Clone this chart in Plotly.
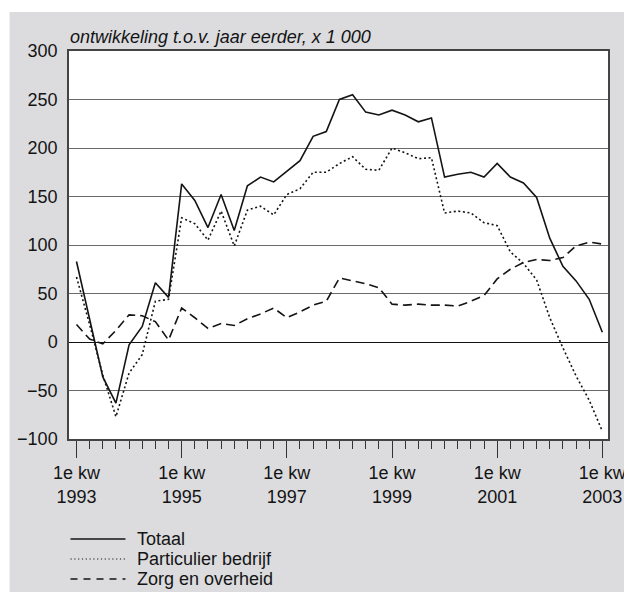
import plotly.graph_objects as go

# quarter index since 1e kw 1993 (0 .. 40 = 1e kw 2003)
quarters = list(range(41))

totaal = [83, 24, -36, -63, -3, 16, 61, 46, 163, 146,
          118, 152, 115, 161, 170, 165, 176, 187, 212, 217,
          250, 255, 237, 234, 239, 234, 227, 231, 170, 173,
          175, 170, 184, 170, 164, 149, 107, 78, 63, 44, 10]

particulier = [67, 18, -34, -77, -32, -13, 42, 44, 128, 122,
               105, 135, 99, 136, 140, 131, 152, 158, 175, 175,
               184, 191, 178, 177, 200, 195, 189, 190, 133, 135,
               133, 123, 120, 93, 81, 64, 25, -6, -35, -60, -92]

zorg = [18, 3, -2, 12, 28, 27, 21, 2, 35, 25,
        14, 19, 17, 24, 29, 35, 25, 31, 38, 42,
        66, 63, 60, 56, 39, 38, 39, 38, 38, 37,
        42, 48, 65, 75, 82, 85, 84, 87, 99, 103, 101]

series_names = ["Totaal", "Particulier bedrijf", "Zorg en overheid"]
tick_pos = [0, 8, 16, 24, 32, 40]
tick_labels = ["1e kw<br>1993", "1e kw<br>1995", "1e kw<br>1997",
               "1e kw<br>1999", "1e kw<br>2001", "1e kw<br>2003"]
y_ticks = [-100, -50, 0, 50, 100, 150, 200, 250, 300]
y_title = "ontwikkeling t.o.v. jaar eerder, x 1 000"

FONT = "Liberation Sans, Arial, Helvetica, sans-serif"
FS = 18
INK = "#141414"
GREY = "#dcdcdf"
dashes = ["solid", "2px,2.6px", "9px,5px"]
legend_dashes = ["solid", "1.2px,2.6px", "7px,6px"]

OFF = 8                      # page body margin
W, H = 632, 592              # figure size (right/bottom 8px fall outside the window)
L, T = 68.5 - OFF, 51 - OFF
R = W - (608 - OFF)
B = H - (439 - OFF)
pw, ph = W - L - R, H - T - B


def px(x):  # page pixel x -> paper
    return (x - OFF - L) / pw


def py(y):  # page pixel y -> paper
    return (H - B - (y - OFF)) / ph


fig = go.Figure()
for name, vals, d in zip(series_names, [totaal, particulier, zorg], dashes):
    fig.add_trace(go.Scatter(
        x=quarters, y=vals, mode="lines", name=name,
        line=dict(color=INK, width=1.6, dash=d),
        showlegend=False, hoverinfo="skip"))

shapes = [
    # thin white strips above / left of the grey panel
    dict(type="rect", xref="paper", yref="paper", x0=-0.3, x1=1.3,
         y0=py(12), y1=py(0), fillcolor="white", line=dict(width=0), layer="below"),
    dict(type="rect", xref="paper", yref="paper", x0=px(0), x1=px(9),
         y0=py(700), y1=py(12), fillcolor="white", line=dict(width=0), layer="below"),
]

annotations = [
    dict(text="<i>" + y_title + "</i>", xref="paper", yref="paper",
         x=px(67), y=py(37), xanchor="left", yanchor="middle", showarrow=False,
         font=dict(family=FONT, size=FS, color=INK)),
]

# hand-made legend (long samples as in the reference)
for k, (name, d) in enumerate(zip(series_names, legend_dashes)):
    yc = 539 + 20 * k
    shapes.append(dict(type="line", xref="paper", yref="paper",
                       x0=px(70), x1=px(125), y0=py(yc), y1=py(yc),
                       line=dict(color=INK, width=1.3 if k != 1 else 1.1, dash=d)))
    annotations.append(dict(text=name, xref="paper", yref="paper",
                            x=px(135), y=py(yc), xanchor="left", yanchor="middle",
                            showarrow=False, font=dict(family=FONT, size=FS, color=INK)))

fig.update_layout(
    width=W, height=H,
    margin=dict(l=L, r=R, t=T, b=B, pad=0, autoexpand=False),
    paper_bgcolor=GREY, plot_bgcolor="white",
    font=dict(family=FONT, size=FS, color=INK),
    shapes=shapes, annotations=annotations,
    showlegend=False, hovermode=False,
)

fig.update_xaxes(
    range=[-0.57, 40.43], tickmode="array", tickvals=tick_pos, ticktext=tick_labels,
    ticks="outside", ticklen=17, tickwidth=1.2, tickcolor="#333",
    minor=dict(tickmode="linear", tick0=0, dtick=1, ticks="outside",
               ticklen=8, tickwidth=1.2, tickcolor="#333", showgrid=False),
    showgrid=False, zeroline=False, automargin=False,
    showline=True, mirror=True, linecolor="#444", linewidth=1.5,
    tickfont=dict(family=FONT, size=FS, color=INK),
)

fig.update_yaxes(
    range=[-100, 300], tickmode="array", tickvals=y_ticks,
    ticktext=[str(v).replace("-", "\u2212") for v in y_ticks],
    ticks="", showgrid=True, gridcolor="#6a6a6a", gridwidth=1,
    zeroline=True, zerolinecolor="#111", zerolinewidth=1.3,
    showline=True, mirror=True, linecolor="#444", linewidth=1.5, automargin=False,
    tickfont=dict(family=FONT, size=FS, color=INK),
    ticklabelstandoff=6,
)

fig.write_html("out.html")
